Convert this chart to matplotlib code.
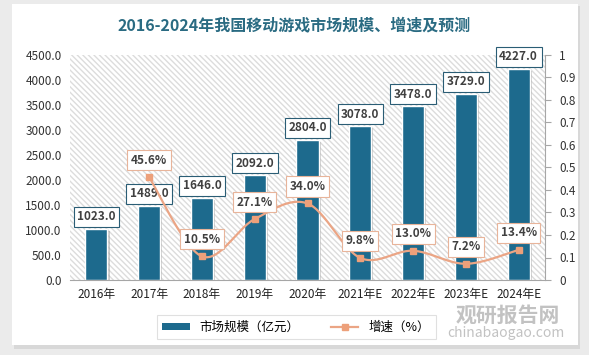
import matplotlib
matplotlib.use("Agg")
import matplotlib.pyplot as plt
import numpy as np
from matplotlib.patches import Rectangle
from matplotlib.lines import Line2D
import matplotlib.patheffects as pe

plt.rcParams['font.family'] = ['Noto Sans CJK SC', 'DejaVu Sans']

years = ['2016年', '2017年', '2018年', '2019年', '2020年', '2021年E', '2022年E', '2023年E', '2024年E']
market = [1023.0, 1489.0, 1646.0, 2092.0, 2804.0, 3078.0, 3478.0, 3729.0, 4227.0]
growth_years_idx = [1, 2, 3, 4, 5, 6, 7, 8]
growth = [0.456, 0.105, 0.271, 0.340, 0.098, 0.130, 0.072, 0.134]

bar_color = '#1d6a8d'
line_color = '#eba585'
marker_color = '#eda07a'
title_color = '#2a6b82'

W, H = 589, 355
fig = plt.figure(figsize=(W / 100, H / 100), dpi=100)
fig.patch.set_facecolor('#ebebeb')
fig.add_artist(Rectangle((14 / W, 1 - 349 / H), 566 / W, 343 / H, transform=fig.transFigure,
                         facecolor='#d8d8d8', edgecolor='none', zorder=0))
fig.add_artist(Rectangle((12 / W, 1 - 345 / H), 566 / W, 341 / H, transform=fig.transFigure,
                         facecolor='white', edgecolor='none', zorder=0))

ax = fig.add_axes([70 / W, 1 - 280 / H, 475 / W, 225 / H])
ax.set_facecolor('none')
x = np.arange(len(years))
ax.set_xlim(-0.5, len(years) - 0.5)
ax.set_ylim(0, 4500)
ax.add_patch(Rectangle((0, 0), 1, 1, transform=ax.transAxes, facecolor='white',
                       edgecolor='#dcdcdc', hatch='\\\\\\\\\\\\', linewidth=0, zorder=0))

bars = ax.bar(x, market, width=0.42, color=bar_color, edgecolor='white', linewidth=1.0, zorder=2)
for b in bars:
    b.set_path_effects([pe.SimplePatchShadow(offset=(1.5, -1.5), shadow_rgbFace='#999999', alpha=0.5), pe.Normal()])
for xi, v in zip(x, market):
    ax.annotate(f'{v:.1f}', (xi, v), xytext=(0, 12), textcoords='offset pixels', ha='center',
                va='center', fontsize=8.5, fontweight='bold', color='#404040', zorder=6,
                bbox=dict(boxstyle='square,pad=0.3', facecolor='white', edgecolor='#2a5d75', linewidth=0.8))

ax.set_yticks(np.arange(0, 4501, 500))
ax.set_yticklabels([f'{v:.1f}' for v in np.arange(0, 4501, 500)], fontsize=8.5, color='#333333')
ax.set_xticks(x)
ax.set_xticklabels(years, fontsize=8.5, color='#222222')
ax.tick_params(axis='y', length=0, pad=6)
ax.tick_params(axis='x', length=0, pad=6)
for s in ['top', 'right', 'left']:
    ax.spines[s].set_visible(False)
ax.spines['bottom'].set_color('#a6a6a6')

ax2 = ax.twinx()
ax2.set_ylim(0, 1)
ax2.set_yticks(np.arange(0, 1.01, 0.1))
ax2.set_yticklabels(['0'] + [f'{v:.1f}' for v in np.arange(0.1, 0.95, 0.1)] + ['1'], fontsize=8.5, color='#333333')
ax2.tick_params(axis='y', length=4, color='#a6a6a6', pad=6)
for s in ['top', 'left', 'bottom']:
    ax2.spines[s].set_visible(False)
ax2.spines['right'].set_color('#a6a6a6')

# smooth display curve through the growth points (cubic Hermite)
gx = np.array(growth_years_idx, dtype=float)
gy = np.array(growth)
px = np.concatenate([[gx[0]], gx, [gx[-1]]])
py = np.concatenate([[gy[0]], gy, [gy[-1]]])
sx, sy = [], []
t = np.linspace(0, 1, 30)
h00 = 2*t**3 - 3*t**2 + 1
h10 = t**3 - 2*t**2 + t
h01 = -2*t**3 + 3*t**2
h11 = t**3 - t**2
for i in range(1, len(px) - 2):
    for arr, pp in ((sx, px), (sy, py)):
        a0, a1, a2, a3 = pp[i-1], pp[i], pp[i+1], pp[i+2]
        m1 = (a2 - a0) / 2
        m2 = (a3 - a1) / 2
        arr.extend(h00*a1 + h10*m1 + h01*a2 + h11*m2)
ax2.plot(sx, sy, color=line_color, linewidth=1.6, zorder=3)
ax2.plot(gx, gy, linestyle='none', marker='s', markersize=5, color=marker_color, zorder=4)
for xi, v in zip(gx, gy):
    ax2.annotate(f'{v*100:.1f}%', (xi, v), xytext=(0, 17), textcoords='offset pixels', ha='center',
                 va='center', fontsize=8.5, fontweight='bold', color='#404040', zorder=6,
                 bbox=dict(boxstyle='square,pad=0.3', facecolor='white', edgecolor='#e8b49a', linewidth=0.8))

fig.text(0.5, 1 - 25 / H, '2016-2024年我国移动游戏市场规模、增速及预测', ha='center', va='center',
         fontsize=11.5, fontweight='bold', color=title_color)

handles = [Rectangle((0, 0), 1, 1, facecolor=bar_color, edgecolor='none'),
           Line2D([], [], color=line_color, marker='s', markersize=5, markerfacecolor=marker_color,
                  markeredgecolor=marker_color, linewidth=1.6)]
leg = fig.legend(handles, ['市场规模（亿元）', '增速（%）'], loc='center', bbox_to_anchor=(296 / W, 1 - 327 / H),
                 ncol=2, fontsize=9, frameon=True, fancybox=False, edgecolor='#d9d9d9',
                 handlelength=2.2, handleheight=0.5, columnspacing=2.5, borderpad=0.45)
leg.get_frame().set_linewidth(0.8)
leg.set_zorder(5)

fig.text(508 / W, 1 - 315 / H, '观研报告网', ha='center', va='center', fontsize=15, fontweight='bold',
         color='#b8b8b8', alpha=0.85, zorder=10)
fig.text(506 / W, 1 - 333 / H, 'chinabaogao.com', ha='center', va='center', fontsize=10,
         color='#b8b8b8', alpha=0.85, zorder=10)

fig.savefig('out.png', dpi=100, facecolor=fig.get_facecolor())
